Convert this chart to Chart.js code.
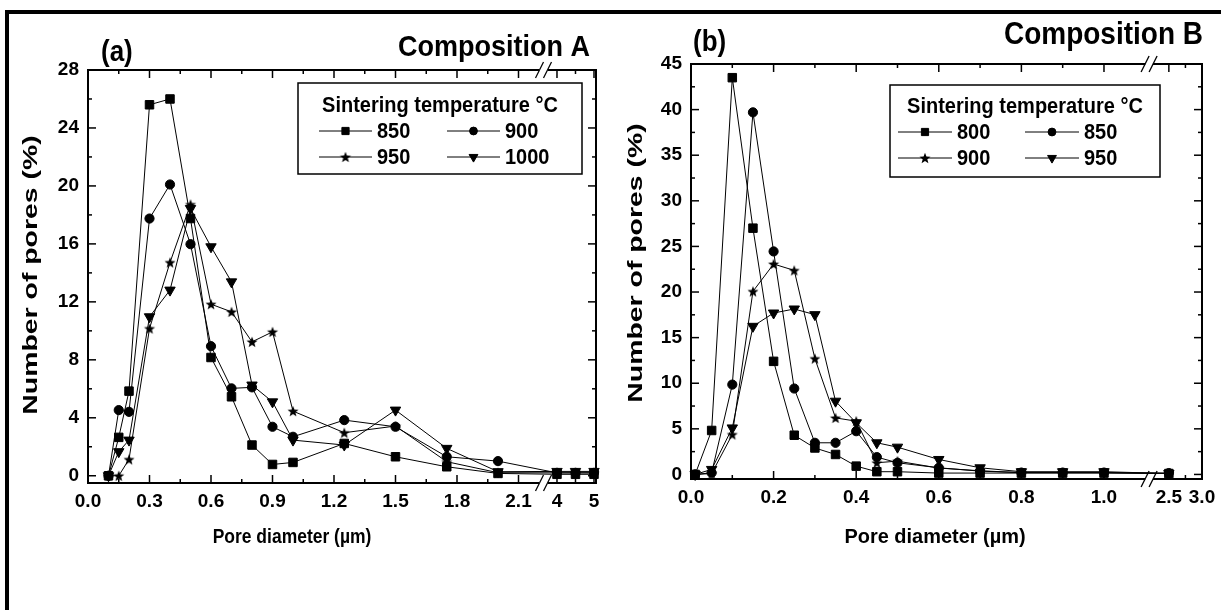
<!DOCTYPE html>
<html>
<head>
<meta charset="utf-8">
<title>Pore size distribution</title>
<script src="https://cdn.jsdelivr.net/npm/chart.js@4.4.1/dist/chart.umd.min.js"></script>
<style>
  html, body { margin: 0; padding: 0; background: #fff; }
  #page { position: relative; width: 1221px; height: 610px; overflow: hidden; background: #fff; }
  #page canvas { position: absolute; top: 0; }
  #frameTop  { position: absolute; left: 5px; top: 10px; width: 1216px; height: 4px; background: #000; }
  #frameLeft { position: absolute; left: 5px; top: 10px; width: 4px; height: 600px; background: #000; }
</style>
</head>
<body>
<div id="page">
  <canvas id="chartA" width="610" height="610" style="left:0"></canvas>
  <canvas id="chartB" width="611" height="610" style="left:610px"></canvas>
  <div id="frameTop"></div>
  <div id="frameLeft"></div>
</div>
<script>
// ─── DATA: COMPOSITION A ───────────────────────────────────
const poreA  = [0.1, 0.15, 0.2, 0.3, 0.4, 0.5, 0.6, 0.7, 0.8, 0.9, 1.0, 1.25, 1.5, 1.75, 2.0, 4.0, 4.5, 5.0];
const tempsA = ['850', '900', '950', '1000'];
const a850   = [0, 2.65, 5.84, 25.6, 26.0, 17.75, 8.16, 5.45, 2.12, 0.78, 0.92, 2.23, 1.31, 0.62, 0.16, 0.1, 0.1, 0.1];
const a900   = [0, 4.53, 4.41, 17.75, 20.1, 15.98, 8.94, 6.03, 6.1, 3.38, 2.69, 3.84, 3.38, 1.31, 1.01, 0.2, 0.2, 0.2];
const a950   = [0, 0, 1.13, 10.16, 14.72, 18.72, 11.84, 11.31, 9.24, 9.93, 4.46, 2.97, 3.43, 0.97, 0.21, 0.2, 0.2, 0.2];
const a1000  = [0, 1.66, 2.46, 10.97, 12.81, 18.44, 15.8, 13.38, 6.26, 5.1, 2.46, 2.12, 4.53, 1.89, 0.28, 0.3, 0.3, 0.3];

const xTicksA      = [0, 0.3, 0.6, 0.9, 1.2, 1.5, 1.8, 2.1, 4, 5];
const xTickLabelsA = ['0.0', '0.3', '0.6', '0.9', '1.2', '1.5', '1.8', '2.1', '4', '5'];
const xMinorA      = [0.15, 0.45, 0.75, 1.05, 1.35, 1.65, 1.95, 4.5];
const yTicksA      = [0, 4, 8, 12, 16, 20, 24, 28];
const yMinorA      = [2, 6, 10, 14, 18, 22, 26];

// ─── DATA: COMPOSITION B ───────────────────────────────────
const poreB  = [0.01, 0.05, 0.1, 0.15, 0.2, 0.25, 0.3, 0.35, 0.4, 0.45, 0.5, 0.6, 0.7, 0.8, 0.9, 1.0, 2.5];
const tempsB = ['800', '850', '900', '950'];
const b800   = [0, 4.82, 43.5, 27.0, 12.4, 4.3, 2.9, 2.19, 0.91, 0.3, 0.3, 0.15, 0.15, 0.15, 0.15, 0.15, 0.1];
const b850   = [0, 0.18, 9.85, 39.7, 24.45, 9.42, 3.47, 3.47, 4.74, 1.9, 1.28, 0.73, 0.36, 0.2, 0.2, 0.2, 0.15];
const b900   = [0, 0.1, 4.38, 20.07, 23.07, 22.37, 12.7, 6.2, 5.84, 1.28, 1.46, 0.7, 0.4, 0.2, 0.2, 0.2, 0.1];
const b950   = [0, 0.55, 5.1, 16.24, 17.7, 18.14, 17.52, 8.03, 5.66, 3.47, 2.99, 1.64, 0.73, 0.3, 0.3, 0.3, 0.1];

const xTicksB      = [0, 0.2, 0.4, 0.6, 0.8, 1.0, 2.5, 3.0];
const xTickLabelsB = ['0.0', '0.2', '0.4', '0.6', '0.8', '1.0', '2.5', '3.0'];
const xMinorB      = [0.1, 0.3, 0.5, 0.7, 0.9, 2.75];
const yTicksB      = [0, 5, 10, 15, 20, 25, 30, 35, 40, 45];
const yMinorB      = [2.5, 7.5, 12.5, 17.5, 22.5, 27.5, 32.5, 37.5, 42.5];

const FONT = '"Liberation Sans", Arial, Helvetica, sans-serif';

// ─── BROKEN X SCALE ────────────────────────────────────────
// linear scale split into two segments; each owns a share [from, to] of the axis length
class BrokenScale extends Chart.LinearScale {
  static id = 'broken';

  determineDataLimits() {
    const segs = this.options.segments;
    this.min = segs[0].min;
    this.max = segs[segs.length - 1].max;
  }

  buildTicks() {
    return this.options.tickValues.map(value => ({ value }));
  }

  getPixelForValue(value) {
    if (value === null || value === undefined || isNaN(value)) return NaN;
    const segs = this.options.segments;
    const a = segs[0], b = segs[1];
    let dec;
    if (value <= a.max) {
      dec = a.from + (value - a.min) / (a.max - a.min) * (a.to - a.from);
    } else if (value >= b.min) {
      dec = b.from + (value - b.min) / (b.max - b.min) * (b.to - b.from);
    } else {
      const t = (value - a.max) / (b.min - a.max);
      dec = a.to + t * (b.from - a.to);
    }
    return this.getPixelForDecimal(dec);
  }
}
Chart.register(BrokenScale);

// ─── MARKERS ───────────────────────────────────────────────
function makeStar(r) {
  const c = document.createElement('canvas');
  const s = Math.ceil(r * 2 + 2);
  c.width = c.height = s;
  const g = c.getContext('2d');
  g.translate(s / 2, s / 2 + r * 0.1);
  g.beginPath();
  for (let i = 0; i < 10; i++) {
    const rr = i % 2 ? r * 0.42 : r;
    const ang = -Math.PI / 2 + i * Math.PI / 5;
    g.lineTo(Math.cos(ang) * rr, Math.sin(ang) * rr);
  }
  g.closePath();
  g.fillStyle = '#000';
  g.fill();
  return c;
}

const MARKERS = [
  { pointStyle: 'rect',     pointRadius: 6 },
  { pointStyle: 'circle',   pointRadius: 4.6 },
  { pointStyle: makeStar(5.8), pointRadius: 5 },
  { pointStyle: 'triangle', pointRadius: 6, pointRotation: 180 },
];

function makeDatasets(x, labels, series) {
  return series.map((ys, i) => ({
    label: labels[i],
    data: ys.map((y, j) => ({ x: x[j], y })),
    borderColor: '#000',
    backgroundColor: '#000',
    borderWidth: 1,
    pointBackgroundColor: '#000',
    pointBorderColor: '#000',
    pointBorderWidth: 1,
    tension: 0,
    clip: false,
    ...MARKERS[i],
  }));
}

// text with an optional stretch (the source figure is squeezed non-uniformly)
function drawText(ctx, t, align, baseline, rot) {
  ctx.save();
  ctx.translate(t.x, t.y);
  if (rot) ctx.rotate(rot);
  ctx.scale(t.sx || 1, t.sy || 1);
  ctx.font = `bold ${t.size}px ${FONT}`;
  ctx.textAlign = align;
  ctx.textBaseline = baseline;
  ctx.fillText(t.text, 0, 0);
  ctx.restore();
}

// ─── FRAME, TICKS, LEGEND, TEXT ────────────────────────────
const panelDecor = {
  id: 'panelDecor',
  afterDraw(chart, args, o) {
    const { ctx, chartArea: ca } = chart;
    const xs = chart.scales.x, ys = chart.scales.y;
    const seg = (x1, y1, x2, y2) => { ctx.beginPath(); ctx.moveTo(x1, y1); ctx.lineTo(x2, y2); ctx.stroke(); };

    ctx.save();
    ctx.strokeStyle = '#000';
    ctx.fillStyle = '#000';

    // inward ticks on all four sides
    ctx.lineWidth = 1.5;
    const xTick = (v, len) => {
      const p = xs.getPixelForValue(v);
      seg(p, ca.bottom, p, ca.bottom - len);
      seg(p, ca.top, p, ca.top + len);
    };
    const yTick = (v, len) => {
      const p = ys.getPixelForValue(v);
      seg(ca.left, p, ca.left + len, p);
      seg(ca.right, p, ca.right - len, p);
    };
    xs.ticks.forEach(t => xTick(t.value, 8));
    xs.options.minorValues.forEach(v => xTick(v, 4));
    ys.ticks.forEach(t => yTick(t.value, 8));
    ys.options.minorValues.forEach(v => yTick(v, 4));

    // box with a gap at the axis break
    const segs = xs.options.segments;
    const gapL = xs.getPixelForValue(segs[0].max);
    const gapR = xs.getPixelForValue(segs[1].min);
    ctx.lineWidth = 2;
    [ca.top, ca.bottom].forEach(y => { seg(ca.left, y, gapL, y); seg(gapR, y, ca.right, y); });
    seg(ca.left, ca.top - 1, ca.left, ca.bottom + 1);
    seg(ca.right, ca.top - 1, ca.right, ca.bottom + 1);

    ctx.lineWidth = 1.3;
    const bx = (gapL + gapR) / 2;
    [ca.top, ca.bottom].forEach(y => [-4, 4].forEach(d => seg(bx + d - 4, y + 8, bx + d + 4, y - 8)));

    // legend
    const L = o.legend;
    ctx.lineWidth = 1.5;
    ctx.fillStyle = '#fff';
    ctx.fillRect(L.x, L.y, L.w, L.h);
    ctx.strokeRect(L.x, L.y, L.w, L.h);
    ctx.fillStyle = '#000';
    drawText(ctx, { text: L.title, x: L.x + L.w / 2, y: L.titleY, size: L.size, sy: L.sy }, 'center', 'middle');
    chart.data.datasets.forEach((ds, i) => {
      const x0 = L.cols[i % 2], y0 = L.rows[Math.floor(i / 2)];
      ctx.lineWidth = 1;
      seg(x0, y0, x0 + L.lineLen, y0);
      Chart.helpers.drawPoint(ctx, {
        pointStyle: ds.pointStyle,
        radius: ds.pointRadius * 0.85,
        rotation: ds.pointRotation || 0,
        borderWidth: 1,
      }, x0 + L.lineLen / 2, y0);
      drawText(ctx, { text: ds.label, x: x0 + L.lineLen + L.gap, y: y0 + 1, size: L.size, sy: L.sy }, 'left', 'middle');
    });

    // panel tag, composition title, axis titles
    drawText(ctx, o.tag, 'left', 'alphabetic');
    drawText(ctx, o.title, 'right', 'alphabetic');
    drawText(ctx, o.xTitle, 'center', 'middle');
    drawText(ctx, o.yTitle, 'center', 'middle', -Math.PI / 2);

    ctx.restore();
  },
};

// ─── CHART FACTORY ─────────────────────────────────────────
const tickFont = { family: FONT, size: 19, weight: 'bold' };

function buildChart(canvasId, cfg) {
  return new Chart(document.getElementById(canvasId), {
    type: 'line',
    data: { datasets: makeDatasets(cfg.pore, cfg.temps, cfg.series) },
    options: {
      responsive: false,
      animation: false,
      events: [],
      layout: { padding: cfg.padding },
      plugins: {
        legend: { display: false },
        tooltip: { enabled: false },
        panelDecor: cfg.decor,
      },
      scales: {
        x: {
          type: 'broken',
          segments: cfg.segments,
          tickValues: cfg.xTicks,
          minorValues: cfg.xMinor,
          grid: { display: false, drawTicks: false },
          border: { display: false },
          ticks: {
            autoSkip: false, maxRotation: 0, padding: 7, color: '#000', font: tickFont,
            callback: (v, i) => cfg.xLabels[i],
          },
          afterFit: s => { s.height = 80; s.paddingLeft = 0; s.paddingRight = 0; },
        },
        y: {
          type: 'linear',
          min: cfg.yMin,
          max: cfg.yMax,
          minorValues: cfg.yMinor,
          afterBuildTicks: s => { s.ticks = cfg.yTicks.map(value => ({ value })); },
          grid: { display: false, drawTicks: false },
          border: { display: false },
          ticks: { padding: 9, color: '#000', font: tickFont },
          afterFit: s => { s.width = cfg.yWidth; s.paddingTop = 0; s.paddingBottom = 0; },
        },
      },
    },
    plugins: [panelDecor],
  });
}

buildChart('chartA', {
  pore: poreA, temps: tempsA, series: [a850, a900, a950, a1000],
  xTicks: xTicksA, xLabels: xTickLabelsA, xMinor: xMinorA,
  yTicks: yTicksA, yMinor: yMinorA, yMin: -0.5, yMax: 28,
  segments: [
    { min: 0, max: 2.2, from: 0, to: 0.8878 },
    { min: 3.757, max: 5.054, from: 0.9055, to: 1 },
  ],
  padding: { left: 0, top: 70, right: 14, bottom: 47 },
  yWidth: 88,
  decor: {
    tag:    { text: '(a)', x: 101, y: 61, size: 26, sy: 1.1 },
    title:  { text: 'Composition A', x: 590, y: 56, size: 27, sy: 1.12 },
    xTitle: { text: 'Pore diameter (\u00b5m)', x: 292, y: 537, size: 19, sx: 0.92, sy: 1.08 },
    yTitle: { text: 'Number of pores (%)', x: 31, y: 275, size: 20, sx: 1.42 },
    legend: {
      title: 'Sintering temperature \u00b0C', size: 20, sy: 1.1,
      x: 298, y: 83, w: 284, h: 91, titleY: 106,
      rows: [131, 157], cols: [319, 447], lineLen: 53, gap: 5,
    },
  },
});

buildChart('chartB', {
  pore: poreB, temps: tempsB, series: [b800, b850, b900, b950],
  xTicks: xTicksB, xLabels: xTickLabelsB, xMinor: xMinorB,
  yTicks: yTicksB, yMinor: yMinorB, yMin: -0.5, yMax: 45,
  segments: [
    { min: 0, max: 1.1, from: 0, to: 0.889 },
    { min: 2.26, max: 3.0, from: 0.904, to: 1 },
  ],
  padding: { left: 0, top: 64, right: 19, bottom: 51 },
  yWidth: 81,
  decor: {
    tag:    { text: '(b)', x: 83, y: 51, size: 26, sy: 1.1 },
    title:  { text: 'Composition B', x: 593, y: 44, size: 28, sy: 1.1 },
    xTitle: { text: 'Pore diameter (\u00b5m)', x: 325, y: 537, size: 19, sx: 1.05, sy: 1.08 },
    yTitle: { text: 'Number of pores (%)', x: 26, y: 263, size: 20, sx: 1.42 },
    legend: {
      title: 'Sintering temperature \u00b0C', size: 20, sy: 1.1,
      x: 280, y: 85, w: 270, h: 92, titleY: 107,
      rows: [132, 158], cols: [288, 415], lineLen: 54, gap: 5,
    },
  },
});
</script>
</body>
</html>
